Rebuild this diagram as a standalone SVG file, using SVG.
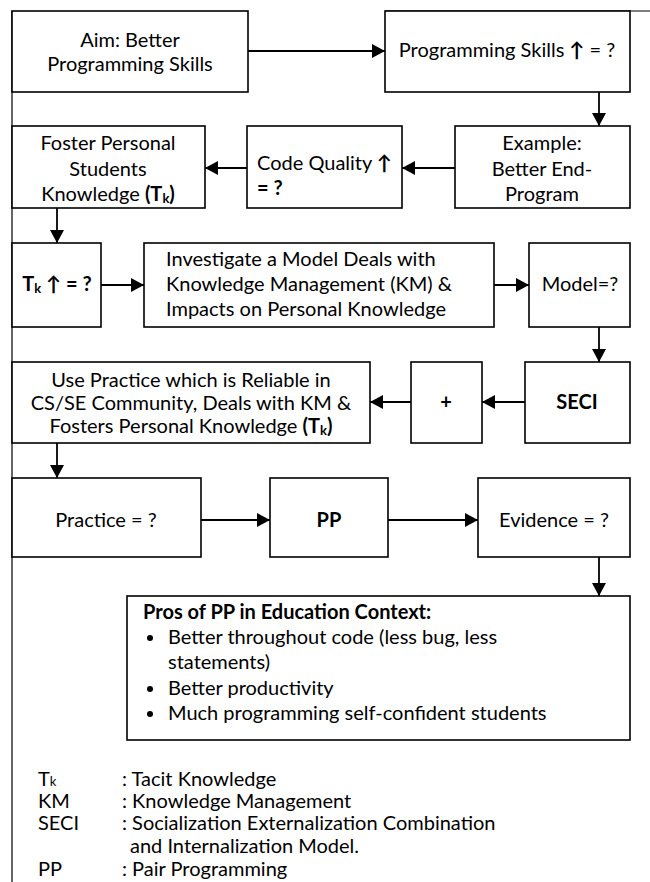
<svg xmlns="http://www.w3.org/2000/svg" width="650" height="882" viewBox="0 0 650 882">
<defs>
<style>
.b{fill:#fff;stroke:#000;stroke-width:1.6}
.c{stroke:#000;stroke-width:1.8;fill:none}
.f{stroke:#000;stroke-width:1.2;fill:none}
text{font-family:Lato,"Liberation Sans","DejaVu Sans",sans-serif;font-size:20px;fill:#000}
.m{text-anchor:middle}
.bd{font-weight:bold}
.s{font-size:13px}
</style>
<marker id="ah" markerUnits="userSpaceOnUse" markerWidth="13" markerHeight="14" refX="13" refY="7" orient="auto">
<path d="M0,0 L13,7 L0,14 Z" fill="#000"/>
</marker>
</defs>
<rect width="650" height="882" fill="#fff"/>
<g id="frame">
<line class="f" x1="385" y1="11" x2="650" y2="11"/>
<line class="f" x1="12" y1="11" x2="12" y2="882"/>
</g>
<g id="connectors">
<line class="c" x1="248" y1="51" x2="385" y2="51" marker-end="url(#ah)"/>
<line class="c" x1="599" y1="92" x2="599" y2="126" marker-end="url(#ah)"/>
<line class="c" x1="455" y1="168" x2="402" y2="168" marker-end="url(#ah)"/>
<line class="c" x1="247" y1="168" x2="205" y2="168" marker-end="url(#ah)"/>
<line class="c" x1="57" y1="208" x2="57" y2="243" marker-end="url(#ah)"/>
<line class="c" x1="101" y1="285" x2="144" y2="285" marker-end="url(#ah)"/>
<line class="c" x1="494" y1="285" x2="529" y2="285" marker-end="url(#ah)"/>
<line class="c" x1="599" y1="327" x2="599" y2="362" marker-end="url(#ah)"/>
<line class="c" x1="525" y1="402" x2="482" y2="402" marker-end="url(#ah)"/>
<line class="c" x1="411" y1="402" x2="370" y2="402" marker-end="url(#ah)"/>
<line class="c" x1="57" y1="443" x2="57" y2="478" marker-end="url(#ah)"/>
<line class="c" x1="201" y1="520" x2="270" y2="520" marker-end="url(#ah)"/>
<line class="c" x1="388" y1="520" x2="478" y2="520" marker-end="url(#ah)"/>
<line class="c" x1="599" y1="557" x2="599" y2="596" marker-end="url(#ah)"/>
</g>
<g id="aim">
<rect class="b" x="12" y="11" width="236" height="81"/>
<text class="m" x="130" y="47">Aim: Better</text>
<text class="m" x="130" y="71">Programming Skills</text>
</g>
<g id="progskills">
<rect class="b" x="385" y="11" width="245" height="81"/>
<text class="m" x="507" y="57">Programming Skills <tspan class="bd">↑</tspan> = ?</text>
</g>
<g id="example">
<rect class="b" x="455" y="126" width="175" height="82"/>
<text class="m" x="542" y="150">Example:</text>
<text class="m" x="542" y="176">Better End-</text>
<text class="m" x="542" y="201">Program</text>
</g>
<g id="codequality">
<rect class="b" x="247" y="126" width="155" height="82"/>
<text x="257" y="170">Code Quality <tspan class="bd">↑</tspan></text>
<text class="bd" x="257" y="195">= ?</text>
</g>
<g id="foster">
<rect class="b" x="12" y="126" width="193" height="82"/>
<text class="m" x="108" y="150">Foster Personal</text>
<text class="m" x="108" y="176">Students</text>
<text class="m" x="108" y="201">Knowledge <tspan class="bd">(T<tspan class="s" dy="2">k</tspan><tspan dy="-2">)</tspan></tspan></text>
</g>
<g id="tk">
<rect class="b" x="12" y="243" width="89" height="84"/>
<text class="m bd" x="57" y="291">T<tspan class="s" dy="2">k</tspan><tspan dy="-2"> ↑ = ?</tspan></text>
</g>
<g id="investigate">
<rect class="b" x="144" y="243" width="350" height="84"/>
<text x="166" y="266">Investigate a Model Deals with</text>
<text x="166" y="291">Knowledge Management (KM) &amp;</text>
<text x="166" y="316">Impacts on Personal Knowledge</text>
</g>
<g id="model">
<rect class="b" x="529" y="243" width="101" height="84"/>
<text class="m" x="580" y="291">Model=?</text>
</g>
<g id="seci">
<rect class="b" x="525" y="362" width="105" height="81"/>
<text class="m bd" x="577" y="409">SECI</text>
</g>
<g id="plus">
<rect class="b" x="411" y="362" width="71" height="81"/>
<text class="m bd" x="446" y="409">+</text>
</g>
<g id="usepractice">
<rect class="b" x="12" y="362" width="358" height="81"/>
<text class="m" x="191" y="387">Use Practice which is Reliable in</text>
<text class="m" x="191" y="410">CS/SE Community, Deals with KM &amp;</text>
<text class="m" x="191" y="433">Fosters Personal Knowledge <tspan class="bd">(T<tspan class="s" dy="2">k</tspan><tspan dy="-2">)</tspan></tspan></text>
</g>
<g id="practice">
<rect class="b" x="12" y="478" width="189" height="79"/>
<text class="m" x="106" y="527">Practice = ?</text>
</g>
<g id="pp">
<rect class="b" x="270" y="478" width="118" height="79"/>
<text class="m bd" x="329" y="527">PP</text>
</g>
<g id="evidence">
<rect class="b" x="478" y="478" width="152" height="79"/>
<text class="m" x="554" y="527">Evidence = ?</text>
</g>
<g id="pros">
<rect class="b" x="127" y="596" width="503" height="144"/>
<text class="bd" x="143" y="619">Pros of PP in Education Context:</text>
<circle cx="150" cy="638" r="3"/>
<text x="168" y="644">Better throughout code (less bug, less</text>
<text x="168" y="669">statements)</text>
<circle cx="150" cy="689" r="3"/>
<text x="168" y="695">Better productivity</text>
<circle cx="150" cy="714" r="3"/>
<text x="168" y="720">Much programming self-confident students</text>
</g>
<g id="legend">
<text x="38" y="786">T<tspan class="s">k</tspan></text>
<text x="122" y="786">: Tacit Knowledge</text>
<text x="38" y="808">KM</text>
<text x="122" y="808">: Knowledge Management</text>
<text x="38" y="830">SECI</text>
<text x="122" y="830">: Socialization Externalization Combination</text>
<text x="130" y="853">and Internalization Model.</text>
<text x="38" y="876">PP</text>
<text x="122" y="876">: Pair Programming</text>
</g>
</svg>
